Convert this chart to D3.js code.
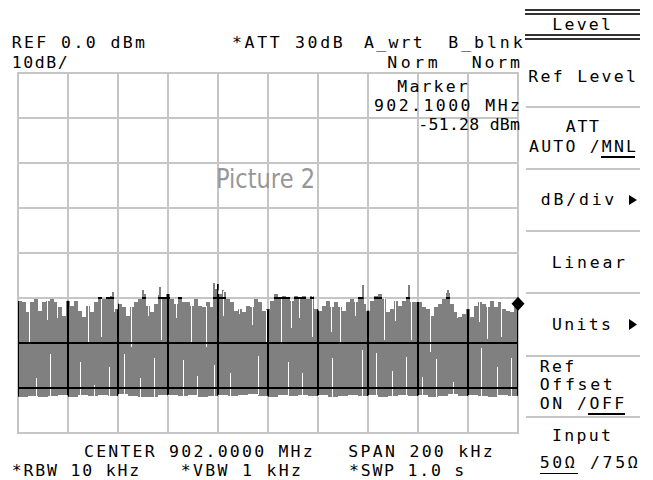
<!DOCTYPE html>
<html>
<head>
<meta charset="utf-8">
<script src="https://cdn.jsdelivr.net/npm/d3@7"></script>
<style>
  html, body { margin: 0; padding: 0; background: #fff; }
  svg { display: block; }
  .mono { font-family: "DejaVu Sans Mono", monospace; font-size: 16.5px; fill: #000; }
</style>
</head>
<body>
<svg id="chart" width="653" height="480"></svg>
<script>
// ---------------- DATA ----------------
const centerMHz = 902.0;
const spanKHz = 200;
const refLevel = 0;      // dBm
const dbPerDiv = 10;
const divisionsX = 10;
const divisionsY = 8;

// Max-hold (top) envelope of the trace, dBm, 125 equal frequency bins
const topTrace = [
  -50.6,-50.9,-53.2,-50.9,-50.2,-52.8,-50.9,-50.6,-50.2,-50.9,
  -52.1,-53.9,-50.6,-51.7,-50.6,-52.8,-54.3,-51.7,-53.2,-50.9,
  -49.7,-50.2,-49.8,-49.5,-52.5,-51.3,-52.1,-53.9,-52.1,-50.9,
  -50.2,-49.1,-51.7,-53.2,-51.3,-49.3,-49.8,-49.1,-50.2,-51.3,
  -49.8,-50.9,
  -50.9,-51.7,-50.2,-51.7,-52.1,-50.9,-52.1,-48.1,-49.1,-48.7,
  -50.2,-50.9,-52.8,-52.5,-53.2,-51.7,-52.1,-50.2,-50.9,-52.8,
  -52.5,-50.6,-49.1,-49.8,-49.5,-49.8,-50.6,-49.5,-49.8,-49.5,
  -50.2,-49.5,-52.5,-52.8,-51.7,-50.6,-52.1,-50.9,-52.1,-52.8,
  -50.9,-50.2,
  -50.9,-49.8,-51.3,-52.8,-50.6,-49.5,-49.1,-50.2,-53.2,-52.5,
  -50.6,-51.7,-50.6,-49.8,-50.9,-50.9,-50.9,-52.1,-52.5,-53.9,
  -52.1,-51.3,-50.2,-48.9,-51.3,-53.2,-54.3,-53.5,-52.5,-54.3,
  -51.7,-50.9,-51.3,-52.1,-50.6,-52.1,-50.9,-52.5,-52.8,-53.2,
  -51.6
];

// Min (bottom) envelope of the trace, dBm, 50 equal frequency bins
const bottomTrace = [
  -71.9,-71.7,-72.0,-71.8,-71.6,-71.9,-71.5,-71.7,-71.6,-71.8,
  -71.4,-71.7,-71.9,-72.0,-71.6,-71.5,-71.8,-71.6,-71.9,-71.7,
  -71.5,-71.8,-71.6,-71.4,-71.7,-71.9,-71.6,-71.8,-71.5,-71.7,
  -71.6,-71.9,-71.7,-71.5,-71.8,-71.6,-72.0,-71.7,-71.5,-71.8,
  -71.6,-71.9,-71.7,-71.4,-71.8,-71.6,-71.7,-71.9,-71.6,-71.7
];

// Narrow peaks above the top envelope: [offset kHz from start, dBm]
const peaks = [
  [37.7,-48.7],[49.7,-48.2],[56.4,-47.6],[78.1,-46.7],[79.7,-46.9],
  [81.7,-48.2],[137.7,-47.1],[156.1,-47.1],[171.7,-48.2]
];

// Narrow drop-outs of the top envelope: [offset kHz from start, dBm]
const dips = [
  [0.2,-62.2],[4.3,-60.1],[11.7,-54.9],[15.5,-54.5],[20.0,-53.5],[28.0,-60.1],
  [33.3,-58.6],[38.5,-53.0],[45.1,-60.8],[52.0,-54.0],[57.1,-59.3],
  [63.3,-54.5],[69.3,-60.1],[75.1,-60.8],[82.0,-54.0],[88.5,-53.5],
  [93.7,-56.0],[99.2,-59.7],[105.1,-59.7],[109.3,-56.7],[112.4,-54.5],
  [117.7,-58.6],[125.1,-57.5],[128.8,-60.1],[135.0,-54.0],[139.7,-61.5],
  [146.4,-59.3],[151.0,-55.0],[157.1,-59.3],[164.8,-61.9],[175.6,-54.5],
  [178.0,-53.5],[184.4,-55.3],[187.7,-59.0],[193.1,-58.6]
];

// Narrow rises of the bottom envelope: [offset kHz from start, dBm]
const rises = [
  [7.1,-67.8],[12.8,-62.4],[24.8,-64.2],[30.4,-69.3],[36.4,-65.3],
  [42.4,-62.4],[48.8,-67.8],[54.4,-63.3],[60.0,-69.0],[66.0,-63.8],
  [71.6,-67.3],[78.4,-64.9],[84.8,-66.7],[96.0,-62.9],[108.0,-64.2],
  [113.6,-66.7],[120.0,-66.2],[125.6,-63.3],[137.6,-61.6],[143.2,-62.2],
  [149.6,-66.2],[155.2,-63.1],[161.6,-67.6],[167.2,-63.6],[174.0,-68.7],
  [185.2,-61.1],[191.6,-65.3],[197.2,-63.3]
];

const marker = { freqMHz: 902.1, level: -51.28 };

// Texts
const headerTexts = ["REF 0.0 dBm", "*ATT 30dB", "A_wrt", "B_blnk", "10dB/", "Norm", "Norm"];
const markerTexts = ["Marker", "902.1000 MHz", "-51.28 dBm"];
const footerTexts = ["CENTER 902.0000 MHz", "SPAN 200 kHz", "*RBW 10 kHz", "*VBW 1 kHz", "*SWP 1.0 s"];
const menuTitle = "Level";
const menuTexts = ["Ref Level", "ATT", "AUTO /MNL", "dB/div", "Linear", "Units",
                   "Ref", "Offset", "ON /OFF", "Input", "50Ω /75Ω"];
const watermark = "Picture 2";

// ---------------- LAYOUT ----------------
const svg = d3.select("#chart");
const plot = { left: 18, right: 518, top: 73, bottom: 433 };
const startMHz = centerMHz - spanKHz / 2000;
const stopMHz = centerMHz + spanKHz / 2000;

const x = d3.scaleLinear().domain([startMHz, stopMHz]).range([plot.left, plot.right]);
const y = d3.scaleLinear().domain([refLevel - dbPerDiv * divisionsY, refLevel]).range([plot.bottom, plot.top]);

const xTicks = d3.range(divisionsX + 1).map(i => startMHz + i * (stopMHz - startMHz) / divisionsX);
const yTicks = d3.range(divisionsY + 1).map(i => refLevel - i * dbPerDiv);

const gridColor = "#c6c6c6";

// light grid
const gGrid = svg.append("g").attr("shape-rendering", "crispEdges");
gGrid.selectAll("line.v").data(xTicks).join("line")
  .attr("x1", d => x(d)).attr("x2", d => x(d))
  .attr("y1", plot.top).attr("y2", plot.bottom)
  .attr("stroke", gridColor).attr("stroke-width", 2);
gGrid.selectAll("line.h").data(yTicks).join("line")
  .attr("x1", plot.left - 1).attr("x2", plot.right + 1)
  .attr("y1", d => y(d)).attr("y2", d => y(d))
  .attr("stroke", gridColor).attr("stroke-width", 2);

// trace polygon
const topStep = (stopMHz - startMHz) / topTrace.length;
const botStep = (stopMHz - startMHz) / bottomTrace.length;
const pts = [];
topTrace.forEach((v, i) => {
  pts.push([x(startMHz + i * topStep), y(v)]);
  pts.push([x(startMHz + (i + 1) * topStep), y(v)]);
});
for (let i = bottomTrace.length - 1; i >= 0; i--) {
  const v = bottomTrace[i];
  pts.push([x(startMHz + (i + 1) * botStep), y(v)]);
  pts.push([x(startMHz + i * botStep), y(v)]);
}
const tracePath = d3.line()(pts) + "Z";
const topAt = f => topTrace[Math.min(topTrace.length - 1, Math.floor((f - startMHz) / topStep))];
const botAt = f => bottomTrace[Math.min(bottomTrace.length - 1, Math.floor((f - startMHz) / botStep))];
const kx = k => Math.round(x(startMHz + k / 1000));

const clip = svg.append("defs").append("clipPath").attr("id", "traceClip");
clip.append("path").attr("d", tracePath);
peaks.forEach(d => clip.append("rect")
  .attr("x", kx(d[0])).attr("width", 1.5)
  .attr("y", y(d[1])).attr("height", y(topAt(startMHz + d[0] / 1000)) - y(d[1]) + 1));

const gTrace = svg.append("g").attr("shape-rendering", "crispEdges");
gTrace.append("path").attr("d", tracePath).attr("fill", "#808080");
gTrace.selectAll("rect.peak").data(peaks).join("rect")
  .attr("x", d => kx(d[0])).attr("width", 1.5)
  .attr("y", d => y(d[1]))
  .attr("height", d => y(topAt(startMHz + d[0] / 1000)) - y(d[1]) + 1)
  .attr("fill", "#808080");
gTrace.selectAll("rect.dip").data(dips).join("rect")
  .attr("x", d => kx(d[0])).attr("width", 1)
  .attr("y", d => y(topAt(startMHz + d[0] / 1000)) - 1)
  .attr("height", d => y(d[1]) - y(topAt(startMHz + d[0] / 1000)) + 1)
  .attr("fill", "#fff");
gTrace.selectAll("rect.rise").data(rises).join("rect")
  .attr("x", d => kx(d[0])).attr("width", 1)
  .attr("y", d => y(d[1]))
  .attr("height", d => y(botAt(startMHz + d[0] / 1000)) - y(d[1]) + 1)
  .attr("fill", "#fff");

// black grid where the trace covers it
const gBlack = svg.append("g").attr("clip-path", "url(#traceClip)").attr("shape-rendering", "crispEdges");
gBlack.selectAll("line.v").data(xTicks).join("line")
  .attr("x1", d => x(d)).attr("x2", d => x(d))
  .attr("y1", plot.top).attr("y2", plot.bottom)
  .attr("stroke", "#000").attr("stroke-width", 2);
gBlack.selectAll("line.h").data(yTicks).join("line")
  .attr("x1", plot.left - 1).attr("x2", plot.right + 1)
  .attr("y1", d => y(d)).attr("y2", d => y(d))
  .attr("stroke", "#000").attr("stroke-width", 2);

// marker diamond
const mx = x(marker.freqMHz), my = y(marker.level);
svg.append("path")
  .attr("d", `M${mx},${my - 7}L${mx + 6.5},${my}L${mx},${my + 7}L${mx - 6.5},${my}Z`)
  .attr("fill", "#000");

// watermark
svg.append("text").text(watermark)
  .attr("x", 216).attr("y", 187.5)
  .attr("textLength", 99).attr("lengthAdjust", "spacingAndGlyphs")
  .style("font-family", "'DejaVu Sans', sans-serif").style("font-size", "27px")
  .style("fill", "#979797");

// ---------------- TEXT ----------------
// [left ink x, baseline, ink width]
function txt(s, p) {
  return svg.append("text").attr("class", "mono")
    .attr("x", p[0] - 1).attr("y", p[1])
    .attr("textLength", p[2] + 2).attr("lengthAdjust", "spacing")
    .attr("xml:space", "preserve").text(s);
}
const headerPos = [[12.7, 48, 131.3], [233, 48, 108.7], [365, 48, 56.7], [449.3, 48, 72.4],
                   [12.7, 68, 54], [388.3, 68, 48.4], [472.7, 68, 46.3]];
headerTexts.forEach((s, i) => txt(s, headerPos[i]));
const markerPos = [[398.3, 91.5, 68.4], [375, 111, 144], [419.3, 130, 99.7]];
markerTexts.forEach((s, i) => txt(s, markerPos[i]));
const footerPos = [[85, 456.5, 226.7], [349.3, 456.5, 142.4], [12.7, 476, 125.6],
                   [181.7, 476, 118.3], [350, 476, 113.3]];
footerTexts.forEach((s, i) => txt(s, footerPos[i]));

// right menu
const menu = svg.append("g").attr("shape-rendering", "crispEdges");
[[9, 2], [13, 1.6], [33.5, 2], [37.5, 2]].forEach(([yy, h]) =>
  menu.append("rect").attr("x", 525).attr("y", yy).attr("width", 115).attr("height", h).attr("fill", "#333"));
[107, 169, 231, 293, 356, 417].forEach(yy =>
  menu.append("rect").attr("x", 526).attr("y", yy - 1).attr("width", 114).attr("height", 2).attr("fill", gridColor));

txt(menuTitle, [553.3, 29.5, 56.7]);
const menuPos = [[529.3, 81.5, 105.7], [566.7, 131.5, 31.3], [530, 151.5, 105], [541.7, 205, 71.6],
                 [552.7, 268, 71.3], [553, 330, 57], [540.7, 371.5, 32.6], [540.7, 390, 71],
                 [540.7, 408.5, 82.6], [553, 440.5, 57], [540.7, 468, 96]];
menuTexts.forEach((s, i) => txt(s, menuPos[i]));

// underlines for selected options
[[601, 635, 156], [588, 625, 413], [540, 578, 472.5]].forEach(([a, b, yy]) =>
  menu.append("rect").attr("x", a).attr("y", yy).attr("width", b - a).attr("height", 1.5).attr("fill", "#000"));

// small arrow heads
[[205, 195], [330, 319]].forEach(([bot, top]) =>
  svg.append("path").attr("d", `M629,${top}L637,${(top + bot) / 2}L629,${bot}Z`).attr("fill", "#000"));
</script>
</body>
</html>
